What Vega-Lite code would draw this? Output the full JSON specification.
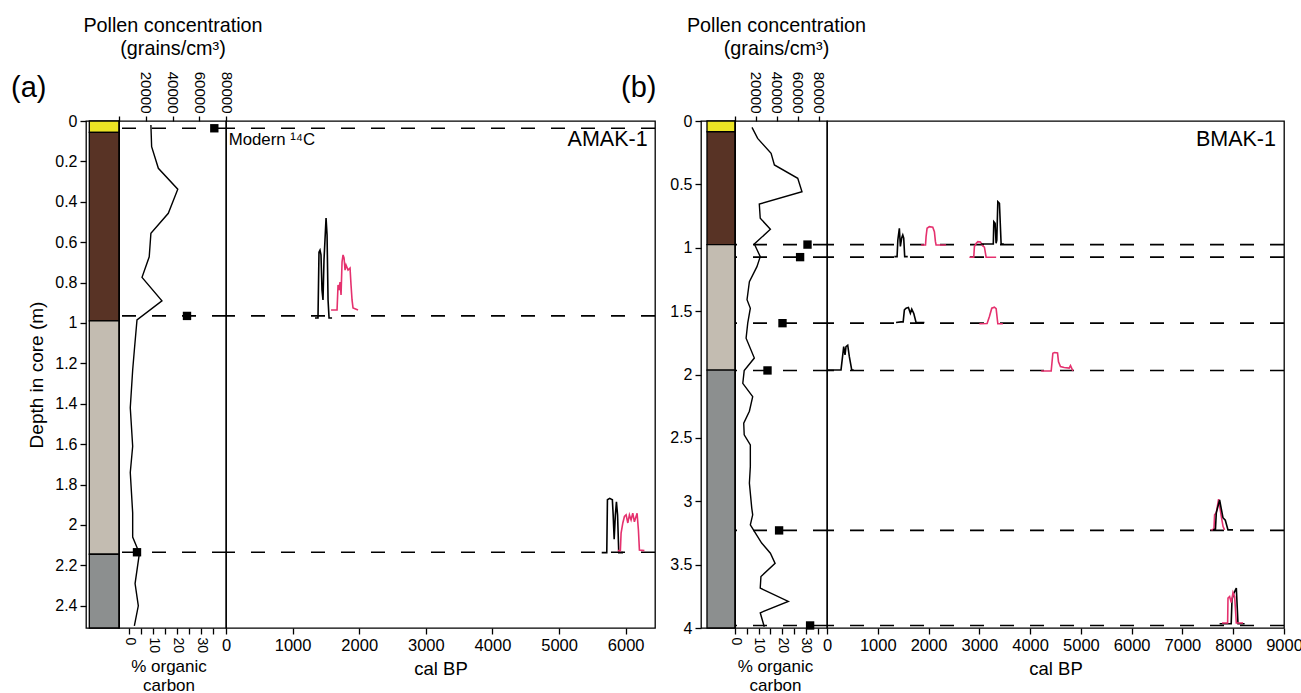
{
  "$schema": "https://vega.github.io/schema/vega-lite/v6.json",
  "background": "white",
  "padding": {"left": 10, "top": 14, "right": 0, "bottom": 0},
  "config": {
    "font": "Liberation Sans",
    "view": {"stroke": "black", "strokeWidth": 1.3},
    "axis": {"grid": false, "domain": false, "labelFlush": false, "labelOverlap": false, "labelColor": "black", "titleColor": "black", "tickColor": "black", "tickWidth": 1.3, "titleFontWeight": "normal", "labelFont": "Liberation Sans", "titleFont": "Liberation Sans"}
  },
  "datasets": {
    "lith": [
      {"core": "AMAK-1", "unit": "U1", "top": 0, "bottom": 0.056},
      {"core": "AMAK-1", "unit": "U2", "top": 0.056, "bottom": 0.99},
      {"core": "AMAK-1", "unit": "U3", "top": 0.99, "bottom": 2.145},
      {"core": "AMAK-1", "unit": "U4", "top": 2.145, "bottom": 2.51},
      {"core": "BMAK-1", "unit": "U1", "top": 0, "bottom": 0.085},
      {"core": "BMAK-1", "unit": "U2", "top": 0.085, "bottom": 0.975},
      {"core": "BMAK-1", "unit": "U3", "top": 0.975, "bottom": 1.965},
      {"core": "BMAK-1", "unit": "U4", "top": 1.965, "bottom": 4}
    ],
    "dates": [
      {"core": "AMAK-1", "depth": 0.036, "pollen": 71260},
      {"core": "AMAK-1", "depth": 0.965, "pollen": 50840},
      {"core": "AMAK-1", "depth": 2.135, "pollen": 13460},
      {"core": "BMAK-1", "depth": 0.975, "pollen": 69380},
      {"core": "BMAK-1", "depth": 1.074, "pollen": 62300},
      {"core": "BMAK-1", "depth": 1.595, "pollen": 45450},
      {"core": "BMAK-1", "depth": 1.968, "pollen": 31100},
      {"core": "BMAK-1", "depth": 3.23, "pollen": 42200},
      {"core": "BMAK-1", "depth": 3.98, "pollen": 71870}
    ],
    "oc": [
      {"core": "AMAK-1", "depth": 0.02, "oc": 9.0},
      {"core": "AMAK-1", "depth": 0.127, "oc": 9.3},
      {"core": "AMAK-1", "depth": 0.234, "oc": 12.1},
      {"core": "AMAK-1", "depth": 0.338, "oc": 20.2},
      {"core": "AMAK-1", "depth": 0.457, "oc": 16.25},
      {"core": "AMAK-1", "depth": 0.556, "oc": 9.0},
      {"core": "AMAK-1", "depth": 0.672, "oc": 8.3},
      {"core": "AMAK-1", "depth": 0.774, "oc": 5.3},
      {"core": "AMAK-1", "depth": 0.89, "oc": 13.6},
      {"core": "AMAK-1", "depth": 0.985, "oc": 3.2},
      {"core": "AMAK-1", "depth": 1.134, "oc": 2.1},
      {"core": "AMAK-1", "depth": 1.233, "oc": 1.4},
      {"core": "AMAK-1", "depth": 1.42, "oc": 0.4},
      {"core": "AMAK-1", "depth": 1.61, "oc": 1.4},
      {"core": "AMAK-1", "depth": 1.74, "oc": 0.4},
      {"core": "AMAK-1", "depth": 1.94, "oc": 1.4},
      {"core": "AMAK-1", "depth": 2.06, "oc": 1.4},
      {"core": "AMAK-1", "depth": 2.14, "oc": 4.2},
      {"core": "AMAK-1", "depth": 2.29, "oc": 2.4},
      {"core": "AMAK-1", "depth": 2.4, "oc": 3.75},
      {"core": "AMAK-1", "depth": 2.5, "oc": 2.1},
      {"core": "BMAK-1", "depth": 0.05, "oc": 7.2},
      {"core": "BMAK-1", "depth": 0.137, "oc": 9.6},
      {"core": "BMAK-1", "depth": 0.255, "oc": 15.3},
      {"core": "BMAK-1", "depth": 0.347, "oc": 16.7},
      {"core": "BMAK-1", "depth": 0.452, "oc": 26.6},
      {"core": "BMAK-1", "depth": 0.558, "oc": 28.4},
      {"core": "BMAK-1", "depth": 0.655, "oc": 10.3},
      {"core": "BMAK-1", "depth": 0.767, "oc": 10.7},
      {"core": "BMAK-1", "depth": 0.854, "oc": 15.0},
      {"core": "BMAK-1", "depth": 0.97, "oc": 8.2},
      {"core": "BMAK-1", "depth": 1.07, "oc": 10.7},
      {"core": "BMAK-1", "depth": 1.149, "oc": 9.3},
      {"core": "BMAK-1", "depth": 1.267, "oc": 6.1},
      {"core": "BMAK-1", "depth": 1.41, "oc": 5.1},
      {"core": "BMAK-1", "depth": 1.477, "oc": 6.5},
      {"core": "BMAK-1", "depth": 1.595, "oc": 5.4},
      {"core": "BMAK-1", "depth": 1.714, "oc": 4.7},
      {"core": "BMAK-1", "depth": 1.87, "oc": 8.2},
      {"core": "BMAK-1", "depth": 1.969, "oc": 3.9},
      {"core": "BMAK-1", "depth": 2.07, "oc": 3.3},
      {"core": "BMAK-1", "depth": 2.174, "oc": 7.5},
      {"core": "BMAK-1", "depth": 2.29, "oc": 6.1},
      {"core": "BMAK-1", "depth": 2.384, "oc": 3.7},
      {"core": "BMAK-1", "depth": 2.476, "oc": 3.9},
      {"core": "BMAK-1", "depth": 2.555, "oc": 6.5},
      {"core": "BMAK-1", "depth": 2.726, "oc": 6.5},
      {"core": "BMAK-1", "depth": 2.857, "oc": 6.1},
      {"core": "BMAK-1", "depth": 3.054, "oc": 7.1},
      {"core": "BMAK-1", "depth": 3.107, "oc": 7.5},
      {"core": "BMAK-1", "depth": 3.186, "oc": 6.5},
      {"core": "BMAK-1", "depth": 3.33, "oc": 11.3},
      {"core": "BMAK-1", "depth": 3.41, "oc": 15.0},
      {"core": "BMAK-1", "depth": 3.49, "oc": 17.0},
      {"core": "BMAK-1", "depth": 3.594, "oc": 11.0},
      {"core": "BMAK-1", "depth": 3.685, "oc": 10.7},
      {"core": "BMAK-1", "depth": 3.79, "oc": 22.6},
      {"core": "BMAK-1", "depth": 3.88, "oc": 10.7},
      {"core": "BMAK-1", "depth": 3.99, "oc": 12.4}
    ],
    "curves": [
      {"core": "AMAK-1", "curve": "a1", "set": "S1", "i": 1, "age": 1336, "depth": 0.975},
      {"core": "AMAK-1", "curve": "a1", "set": "S1", "i": 2, "age": 1381, "depth": 0.975},
      {"core": "AMAK-1", "curve": "a1", "set": "S1", "i": 3, "age": 1396, "depth": 0.649},
      {"core": "AMAK-1", "curve": "a1", "set": "S1", "i": 4, "age": 1411, "depth": 0.639},
      {"core": "AMAK-1", "curve": "a1", "set": "S1", "i": 5, "age": 1426, "depth": 0.663},
      {"core": "AMAK-1", "curve": "a1", "set": "S1", "i": 6, "age": 1441, "depth": 0.837},
      {"core": "AMAK-1", "curve": "a1", "set": "S1", "i": 7, "age": 1456, "depth": 0.886},
      {"core": "AMAK-1", "curve": "a1", "set": "S1", "i": 8, "age": 1471, "depth": 0.688},
      {"core": "AMAK-1", "curve": "a1", "set": "S1", "i": 9, "age": 1486, "depth": 0.589},
      {"core": "AMAK-1", "curve": "a1", "set": "S1", "i": 10, "age": 1502, "depth": 0.48},
      {"core": "AMAK-1", "curve": "a1", "set": "S1", "i": 11, "age": 1517, "depth": 0.564},
      {"core": "AMAK-1", "curve": "a1", "set": "S1", "i": 12, "age": 1532, "depth": 0.886},
      {"core": "AMAK-1", "curve": "a1", "set": "S1", "i": 13, "age": 1547, "depth": 0.975},
      {"core": "AMAK-1", "curve": "a1", "set": "S1", "i": 14, "age": 1592, "depth": 0.975},
      {"core": "AMAK-1", "curve": "a2", "set": "S2", "i": 1, "age": 1577, "depth": 0.936},
      {"core": "AMAK-1", "curve": "a2", "set": "S2", "i": 2, "age": 1667, "depth": 0.936},
      {"core": "AMAK-1", "curve": "a2", "set": "S2", "i": 3, "age": 1682, "depth": 0.812},
      {"core": "AMAK-1", "curve": "a2", "set": "S2", "i": 4, "age": 1697, "depth": 0.837},
      {"core": "AMAK-1", "curve": "a2", "set": "S2", "i": 5, "age": 1712, "depth": 0.797},
      {"core": "AMAK-1", "curve": "a2", "set": "S2", "i": 6, "age": 1727, "depth": 0.861},
      {"core": "AMAK-1", "curve": "a2", "set": "S2", "i": 7, "age": 1742, "depth": 0.698},
      {"core": "AMAK-1", "curve": "a2", "set": "S2", "i": 8, "age": 1757, "depth": 0.663},
      {"core": "AMAK-1", "curve": "a2", "set": "S2", "i": 9, "age": 1772, "depth": 0.678},
      {"core": "AMAK-1", "curve": "a2", "set": "S2", "i": 10, "age": 1787, "depth": 0.738},
      {"core": "AMAK-1", "curve": "a2", "set": "S2", "i": 11, "age": 1802, "depth": 0.713},
      {"core": "AMAK-1", "curve": "a2", "set": "S2", "i": 12, "age": 1832, "depth": 0.738},
      {"core": "AMAK-1", "curve": "a2", "set": "S2", "i": 13, "age": 1862, "depth": 0.728},
      {"core": "AMAK-1", "curve": "a2", "set": "S2", "i": 14, "age": 1877, "depth": 0.812},
      {"core": "AMAK-1", "curve": "a2", "set": "S2", "i": 15, "age": 1892, "depth": 0.886},
      {"core": "AMAK-1", "curve": "a2", "set": "S2", "i": 16, "age": 1907, "depth": 0.926},
      {"core": "AMAK-1", "curve": "a2", "set": "S2", "i": 17, "age": 1982, "depth": 0.936},
      {"core": "AMAK-1", "curve": "a3", "set": "S1", "i": 1, "age": 5640, "depth": 2.137},
      {"core": "AMAK-1", "curve": "a3", "set": "S1", "i": 2, "age": 5716, "depth": 2.137},
      {"core": "AMAK-1", "curve": "a3", "set": "S1", "i": 3, "age": 5726, "depth": 1.875},
      {"core": "AMAK-1", "curve": "a3", "set": "S1", "i": 4, "age": 5760, "depth": 1.868},
      {"core": "AMAK-1", "curve": "a3", "set": "S1", "i": 5, "age": 5800, "depth": 1.875},
      {"core": "AMAK-1", "curve": "a3", "set": "S1", "i": 6, "age": 5812, "depth": 1.95},
      {"core": "AMAK-1", "curve": "a3", "set": "S1", "i": 7, "age": 5827, "depth": 2.07},
      {"core": "AMAK-1", "curve": "a3", "set": "S1", "i": 8, "age": 5845, "depth": 1.95},
      {"core": "AMAK-1", "curve": "a3", "set": "S1", "i": 9, "age": 5861, "depth": 1.885},
      {"core": "AMAK-1", "curve": "a3", "set": "S1", "i": 10, "age": 5878, "depth": 1.95},
      {"core": "AMAK-1", "curve": "a3", "set": "S1", "i": 11, "age": 5896, "depth": 2.137},
      {"core": "AMAK-1", "curve": "a3", "set": "S1", "i": 12, "age": 5960, "depth": 2.137},
      {"core": "AMAK-1", "curve": "a4", "set": "S2", "i": 1, "age": 5882, "depth": 2.127},
      {"core": "AMAK-1", "curve": "a4", "set": "S2", "i": 2, "age": 5920, "depth": 2.127},
      {"core": "AMAK-1", "curve": "a4", "set": "S2", "i": 3, "age": 5931, "depth": 2.04},
      {"core": "AMAK-1", "curve": "a4", "set": "S2", "i": 4, "age": 5957, "depth": 1.99},
      {"core": "AMAK-1", "curve": "a4", "set": "S2", "i": 5, "age": 5981, "depth": 1.958},
      {"core": "AMAK-1", "curve": "a4", "set": "S2", "i": 6, "age": 6006, "depth": 1.95},
      {"core": "AMAK-1", "curve": "a4", "set": "S2", "i": 7, "age": 6032, "depth": 1.99},
      {"core": "AMAK-1", "curve": "a4", "set": "S2", "i": 8, "age": 6056, "depth": 1.95},
      {"core": "AMAK-1", "curve": "a4", "set": "S2", "i": 9, "age": 6081, "depth": 1.975},
      {"core": "AMAK-1", "curve": "a4", "set": "S2", "i": 10, "age": 6106, "depth": 1.942},
      {"core": "AMAK-1", "curve": "a4", "set": "S2", "i": 11, "age": 6131, "depth": 1.984},
      {"core": "AMAK-1", "curve": "a4", "set": "S2", "i": 12, "age": 6171, "depth": 1.942},
      {"core": "AMAK-1", "curve": "a4", "set": "S2", "i": 13, "age": 6191, "depth": 2.025},
      {"core": "AMAK-1", "curve": "a4", "set": "S2", "i": 14, "age": 6206, "depth": 2.124},
      {"core": "AMAK-1", "curve": "a4", "set": "S2", "i": 15, "age": 6281, "depth": 2.127},
      {"core": "BMAK-1", "curve": "b1", "set": "S1", "i": 1, "age": 1326, "depth": 1.07},
      {"core": "BMAK-1", "curve": "b1", "set": "S1", "i": 2, "age": 1380, "depth": 1.07},
      {"core": "BMAK-1", "curve": "b1", "set": "S1", "i": 3, "age": 1395, "depth": 0.94},
      {"core": "BMAK-1", "curve": "b1", "set": "S1", "i": 4, "age": 1425, "depth": 0.846},
      {"core": "BMAK-1", "curve": "b1", "set": "S1", "i": 5, "age": 1445, "depth": 0.99},
      {"core": "BMAK-1", "curve": "b1", "set": "S1", "i": 6, "age": 1472, "depth": 0.92},
      {"core": "BMAK-1", "curve": "b1", "set": "S1", "i": 7, "age": 1492, "depth": 0.899},
      {"core": "BMAK-1", "curve": "b1", "set": "S1", "i": 8, "age": 1511, "depth": 0.925},
      {"core": "BMAK-1", "curve": "b1", "set": "S1", "i": 9, "age": 1530, "depth": 1.07},
      {"core": "BMAK-1", "curve": "b1", "set": "S1", "i": 10, "age": 1590, "depth": 1.07},
      {"core": "BMAK-1", "curve": "b2", "set": "S2", "i": 1, "age": 1853, "depth": 0.978},
      {"core": "BMAK-1", "curve": "b2", "set": "S2", "i": 2, "age": 1940, "depth": 0.978},
      {"core": "BMAK-1", "curve": "b2", "set": "S2", "i": 3, "age": 1951, "depth": 0.912},
      {"core": "BMAK-1", "curve": "b2", "set": "S2", "i": 4, "age": 1971, "depth": 0.846},
      {"core": "BMAK-1", "curve": "b2", "set": "S2", "i": 5, "age": 2016, "depth": 0.834},
      {"core": "BMAK-1", "curve": "b2", "set": "S2", "i": 6, "age": 2083, "depth": 0.838},
      {"core": "BMAK-1", "curve": "b2", "set": "S2", "i": 7, "age": 2115, "depth": 0.873},
      {"core": "BMAK-1", "curve": "b2", "set": "S2", "i": 8, "age": 2135, "depth": 0.95},
      {"core": "BMAK-1", "curve": "b2", "set": "S2", "i": 9, "age": 2148, "depth": 0.978},
      {"core": "BMAK-1", "curve": "b2", "set": "S2", "i": 10, "age": 2345, "depth": 0.978},
      {"core": "BMAK-1", "curve": "b3", "set": "S2", "i": 1, "age": 2804, "depth": 1.075},
      {"core": "BMAK-1", "curve": "b3", "set": "S2", "i": 2, "age": 2890, "depth": 1.075},
      {"core": "BMAK-1", "curve": "b3", "set": "S2", "i": 3, "age": 2903, "depth": 0.991},
      {"core": "BMAK-1", "curve": "b3", "set": "S2", "i": 4, "age": 2940, "depth": 0.965},
      {"core": "BMAK-1", "curve": "b3", "set": "S2", "i": 5, "age": 2970, "depth": 0.952},
      {"core": "BMAK-1", "curve": "b3", "set": "S2", "i": 6, "age": 3021, "depth": 0.955},
      {"core": "BMAK-1", "curve": "b3", "set": "S2", "i": 7, "age": 3068, "depth": 0.986},
      {"core": "BMAK-1", "curve": "b3", "set": "S2", "i": 8, "age": 3100, "depth": 0.995},
      {"core": "BMAK-1", "curve": "b3", "set": "S2", "i": 9, "age": 3134, "depth": 1.075},
      {"core": "BMAK-1", "curve": "b3", "set": "S2", "i": 10, "age": 3331, "depth": 1.075},
      {"core": "BMAK-1", "curve": "b4", "set": "S1", "i": 1, "age": 3035, "depth": 0.97},
      {"core": "BMAK-1", "curve": "b4", "set": "S1", "i": 2, "age": 3275, "depth": 0.97},
      {"core": "BMAK-1", "curve": "b4", "set": "S1", "i": 3, "age": 3285, "depth": 0.794},
      {"core": "BMAK-1", "curve": "b4", "set": "S1", "i": 4, "age": 3311, "depth": 0.807},
      {"core": "BMAK-1", "curve": "b4", "set": "S1", "i": 5, "age": 3330, "depth": 0.965},
      {"core": "BMAK-1", "curve": "b4", "set": "S1", "i": 6, "age": 3344, "depth": 0.94},
      {"core": "BMAK-1", "curve": "b4", "set": "S1", "i": 7, "age": 3364, "depth": 0.636},
      {"core": "BMAK-1", "curve": "b4", "set": "S1", "i": 8, "age": 3396, "depth": 0.649},
      {"core": "BMAK-1", "curve": "b4", "set": "S1", "i": 9, "age": 3429, "depth": 0.97},
      {"core": "BMAK-1", "curve": "b4", "set": "S1", "i": 10, "age": 3482, "depth": 0.97},
      {"core": "BMAK-1", "curve": "b5", "set": "S1", "i": 1, "age": 1360, "depth": 1.59},
      {"core": "BMAK-1", "curve": "b5", "set": "S1", "i": 2, "age": 1458, "depth": 1.585},
      {"core": "BMAK-1", "curve": "b5", "set": "S1", "i": 3, "age": 1500, "depth": 1.585},
      {"core": "BMAK-1", "curve": "b5", "set": "S1", "i": 4, "age": 1524, "depth": 1.49},
      {"core": "BMAK-1", "curve": "b5", "set": "S1", "i": 5, "age": 1557, "depth": 1.477},
      {"core": "BMAK-1", "curve": "b5", "set": "S1", "i": 6, "age": 1603, "depth": 1.472},
      {"core": "BMAK-1", "curve": "b5", "set": "S1", "i": 7, "age": 1642, "depth": 1.517},
      {"core": "BMAK-1", "curve": "b5", "set": "S1", "i": 8, "age": 1669, "depth": 1.485},
      {"core": "BMAK-1", "curve": "b5", "set": "S1", "i": 9, "age": 1708, "depth": 1.517},
      {"core": "BMAK-1", "curve": "b5", "set": "S1", "i": 10, "age": 1754, "depth": 1.59},
      {"core": "BMAK-1", "curve": "b5", "set": "S1", "i": 11, "age": 1918, "depth": 1.59},
      {"core": "BMAK-1", "curve": "b6", "set": "S2", "i": 1, "age": 3001, "depth": 1.6},
      {"core": "BMAK-1", "curve": "b6", "set": "S2", "i": 2, "age": 3153, "depth": 1.598},
      {"core": "BMAK-1", "curve": "b6", "set": "S2", "i": 3, "age": 3199, "depth": 1.543},
      {"core": "BMAK-1", "curve": "b6", "set": "S2", "i": 4, "age": 3245, "depth": 1.477},
      {"core": "BMAK-1", "curve": "b6", "set": "S2", "i": 5, "age": 3297, "depth": 1.469},
      {"core": "BMAK-1", "curve": "b6", "set": "S2", "i": 6, "age": 3331, "depth": 1.48},
      {"core": "BMAK-1", "curve": "b6", "set": "S2", "i": 7, "age": 3364, "depth": 1.6},
      {"core": "BMAK-1", "curve": "b6", "set": "S2", "i": 8, "age": 3463, "depth": 1.6},
      {"core": "BMAK-1", "curve": "b7", "set": "S1", "i": 1, "age": 14, "depth": 1.964},
      {"core": "BMAK-1", "curve": "b7", "set": "S1", "i": 2, "age": 276, "depth": 1.964},
      {"core": "BMAK-1", "curve": "b7", "set": "S1", "i": 3, "age": 329, "depth": 1.78},
      {"core": "BMAK-1", "curve": "b7", "set": "S1", "i": 4, "age": 355, "depth": 1.845},
      {"core": "BMAK-1", "curve": "b7", "set": "S1", "i": 5, "age": 374, "depth": 1.78},
      {"core": "BMAK-1", "curve": "b7", "set": "S1", "i": 6, "age": 408, "depth": 1.769},
      {"core": "BMAK-1", "curve": "b7", "set": "S1", "i": 7, "age": 440, "depth": 1.859},
      {"core": "BMAK-1", "curve": "b7", "set": "S1", "i": 8, "age": 487, "depth": 1.964},
      {"core": "BMAK-1", "curve": "b7", "set": "S1", "i": 9, "age": 526, "depth": 1.964},
      {"core": "BMAK-1", "curve": "b8", "set": "S2", "i": 1, "age": 4218, "depth": 1.972},
      {"core": "BMAK-1", "curve": "b8", "set": "S2", "i": 2, "age": 4415, "depth": 1.972},
      {"core": "BMAK-1", "curve": "b8", "set": "S2", "i": 3, "age": 4448, "depth": 1.832},
      {"core": "BMAK-1", "curve": "b8", "set": "S2", "i": 4, "age": 4480, "depth": 1.827},
      {"core": "BMAK-1", "curve": "b8", "set": "S2", "i": 5, "age": 4540, "depth": 1.83},
      {"core": "BMAK-1", "curve": "b8", "set": "S2", "i": 6, "age": 4559, "depth": 1.9},
      {"core": "BMAK-1", "curve": "b8", "set": "S2", "i": 7, "age": 4598, "depth": 1.938},
      {"core": "BMAK-1", "curve": "b8", "set": "S2", "i": 8, "age": 4671, "depth": 1.945},
      {"core": "BMAK-1", "curve": "b8", "set": "S2", "i": 9, "age": 4769, "depth": 1.95},
      {"core": "BMAK-1", "curve": "b8", "set": "S2", "i": 10, "age": 4795, "depth": 1.93},
      {"core": "BMAK-1", "curve": "b8", "set": "S2", "i": 11, "age": 4842, "depth": 1.972},
      {"core": "BMAK-1", "curve": "b9", "set": "S2", "i": 1, "age": 7568, "depth": 3.226},
      {"core": "BMAK-1", "curve": "b9", "set": "S2", "i": 2, "age": 7620, "depth": 3.22},
      {"core": "BMAK-1", "curve": "b9", "set": "S2", "i": 3, "age": 7633, "depth": 3.107},
      {"core": "BMAK-1", "curve": "b9", "set": "S2", "i": 4, "age": 7667, "depth": 3.09},
      {"core": "BMAK-1", "curve": "b9", "set": "S2", "i": 5, "age": 7712, "depth": 2.983},
      {"core": "BMAK-1", "curve": "b9", "set": "S2", "i": 6, "age": 7765, "depth": 3.12},
      {"core": "BMAK-1", "curve": "b9", "set": "S2", "i": 7, "age": 7800, "depth": 3.2},
      {"core": "BMAK-1", "curve": "b9", "set": "S2", "i": 8, "age": 7830, "depth": 3.226},
      {"core": "BMAK-1", "curve": "b10", "set": "S1", "i": 1, "age": 7601, "depth": 3.226},
      {"core": "BMAK-1", "curve": "b10", "set": "S1", "i": 2, "age": 7650, "depth": 3.22},
      {"core": "BMAK-1", "curve": "b10", "set": "S1", "i": 3, "age": 7667, "depth": 3.09},
      {"core": "BMAK-1", "curve": "b10", "set": "S1", "i": 4, "age": 7732, "depth": 2.99},
      {"core": "BMAK-1", "curve": "b10", "set": "S1", "i": 5, "age": 7798, "depth": 3.13},
      {"core": "BMAK-1", "curve": "b10", "set": "S1", "i": 6, "age": 7844, "depth": 3.15},
      {"core": "BMAK-1", "curve": "b10", "set": "S1", "i": 7, "age": 7897, "depth": 3.226},
      {"core": "BMAK-1", "curve": "b10", "set": "S1", "i": 8, "age": 7996, "depth": 3.226},
      {"core": "BMAK-1", "curve": "b11", "set": "S1", "i": 1, "age": 7732, "depth": 3.967},
      {"core": "BMAK-1", "curve": "b11", "set": "S1", "i": 2, "age": 7960, "depth": 3.967},
      {"core": "BMAK-1", "curve": "b11", "set": "S1", "i": 3, "age": 7976, "depth": 3.776},
      {"core": "BMAK-1", "curve": "b11", "set": "S1", "i": 4, "age": 8008, "depth": 3.73},
      {"core": "BMAK-1", "curve": "b11", "set": "S1", "i": 5, "age": 8061, "depth": 3.685},
      {"core": "BMAK-1", "curve": "b11", "set": "S1", "i": 6, "age": 8094, "depth": 3.967},
      {"core": "BMAK-1", "curve": "b11", "set": "S1", "i": 7, "age": 8224, "depth": 3.967},
      {"core": "BMAK-1", "curve": "b12", "set": "S2", "i": 1, "age": 7780, "depth": 3.961},
      {"core": "BMAK-1", "curve": "b12", "set": "S2", "i": 2, "age": 7890, "depth": 3.961},
      {"core": "BMAK-1", "curve": "b12", "set": "S2", "i": 3, "age": 7897, "depth": 3.764},
      {"core": "BMAK-1", "curve": "b12", "set": "S2", "i": 4, "age": 7929, "depth": 3.752},
      {"core": "BMAK-1", "curve": "b12", "set": "S2", "i": 5, "age": 7962, "depth": 3.8},
      {"core": "BMAK-1", "curve": "b12", "set": "S2", "i": 6, "age": 7996, "depth": 3.72},
      {"core": "BMAK-1", "curve": "b12", "set": "S2", "i": 7, "age": 8028, "depth": 3.752},
      {"core": "BMAK-1", "curve": "b12", "set": "S2", "i": 8, "age": 8061, "depth": 3.961},
      {"core": "BMAK-1", "curve": "b12", "set": "S2", "i": 9, "age": 8193, "depth": 3.961}
    ],
    "labels": [
      {"key": "pa", "label": "(a)"},
      {"key": "pb", "label": "(b)"},
      {"key": "ca", "label": "AMAK-1"},
      {"key": "cb", "label": "BMAK-1"},
      {"key": "mod", "label": "Modern ¹⁴C"}
    ]
  },
  "bounds": "flush",
  "spacing": 0,
  "hconcat": [
    {
      "width": 33, "height": 507,
      "layer": [
        {
          "data": {"name": "lith"},
          "transform": [{"filter": "datum.core == 'AMAK-1'"}],
          "mark": {"type": "rect", "stroke": "black", "strokeWidth": 1.3},
          "encoding": {
            "y": {"field": "top", "type": "quantitative", "scale": {"domain": [0, 2.51], "reverse": true, "nice": false, "zero": false},
                  "axis": {"values": [0, 0.2, 0.4, 0.6, 0.8, 1, 1.2, 1.4, 1.6, 1.8, 2, 2.2, 2.4], "format": "~g", "labelFontSize": 16, "tickSize": 6, "labelPadding": 3, "title": "Depth in core (m)", "titleFontSize": 19, "titlePadding": 8}},
            "y2": {"field": "bottom"},
            "x": {"datum": 0.1, "type": "quantitative", "scale": {"domain": [0, 1], "nice": false, "zero": false}, "axis": null},
            "x2": {"datum": 1},
            "fill": {"field": "unit", "type": "nominal", "scale": {"domain": ["U1", "U2", "U3", "U4"], "range": ["#ebe424", "#583325", "#c3bcb1", "#8c8f8f"]}, "legend": null}
          }
        },
        {
          "data": {"name": "labels"},
          "transform": [{"filter": "datum.key == 'pa'"}],
          "mark": {"type": "text", "fontSize": 29, "align": "left", "baseline": "middle", "color": "black"},
          "encoding": {"text": {"field": "label"}, "x": {"datum": -2.273, "type": "quantitative"}, "y": {"datum": -0.163, "type": "quantitative"}}
        }
      ]
    },
    {
      "width": 107, "height": 507,
      "layer": [
        {
          "data": {"name": "dates"},
          "transform": [{"filter": "datum.core == 'AMAK-1'"}],
          "mark": {"type": "rule", "strokeDash": [14, 16], "strokeWidth": 1.6, "color": "black"},
          "encoding": {"y": {"field": "depth", "type": "quantitative", "scale": {"domain": [0, 2.51], "reverse": true, "nice": false, "zero": false}, "axis": null}}
        },
        {
          "data": {"name": "oc"},
          "transform": [{"filter": "datum.core == 'AMAK-1'"}],
          "mark": {"type": "line", "color": "black", "strokeWidth": 1.4},
          "encoding": {
            "x": {"field": "oc", "type": "quantitative", "scale": {"domain": [-4.3, 40.3], "nice": false, "zero": false},
                  "axis": {"orient": "bottom", "values": [0, 5, 10, 15, 20, 25, 30, 35], "labelExpr": "datum.value % 10 == 0 ? datum.label : ''", "labelAngle": 90, "labelFontSize": 14, "tickSize": 6, "labelPadding": 3, "title": ["% organic", "carbon"], "titleFontSize": 17, "titleLineHeight": 19, "titlePadding": 6, "titleX": 49.5}},
            "y": {"field": "depth", "type": "quantitative", "scale": {"domain": [0, 2.51], "reverse": true, "nice": false, "zero": false}, "axis": null},
            "order": {"field": "depth"}
          }
        },
        {
          "data": {"name": "dates"},
          "transform": [{"filter": "datum.core == 'AMAK-1'"}],
          "mark": {"type": "point", "shape": "square", "filled": true, "size": 70, "color": "black", "opacity": 1},
          "encoding": {
            "x": {"field": "pollen", "type": "quantitative", "scale": {"domain": [0, 80000], "nice": false, "zero": false},
                  "axis": {"orient": "top", "values": [0, 20000, 40000, 60000, 80000], "format": "d", "labelExpr": "datum.value == 0 ? '' : datum.label", "labelAngle": 90, "labelFontSize": 15, "tickSize": 5, "labelPadding": 3, "title": ["Pollen concentration", "(grains/cm³)"], "titleFontSize": 19.8, "titleLineHeight": 23, "titlePadding": 13}},
            "y": {"field": "depth", "type": "quantitative", "scale": {"domain": [0, 2.51], "reverse": true, "nice": false, "zero": false}, "axis": null}
          }
        }
      ],
      "resolve": {"scale": {"x": "independent"}, "axis": {"x": "independent"}}
    },
    {
      "width": 429, "height": 507,
      "layer": [
        {
          "data": {"name": "dates"},
          "transform": [{"filter": "datum.core == 'AMAK-1'"}],
          "mark": {"type": "rule", "strokeDash": [14, 16], "strokeWidth": 1.6, "color": "black"},
          "encoding": {"y": {"field": "depth", "type": "quantitative", "scale": {"domain": [0, 2.51], "reverse": true, "nice": false, "zero": false}, "axis": null}}
        },
        {
          "data": {"name": "curves"},
          "transform": [{"filter": "datum.core == 'AMAK-1'"}],
          "mark": {"type": "line", "strokeWidth": 1.6},
          "encoding": {
            "x": {"field": "age", "type": "quantitative", "scale": {"domain": [0, 6440], "nice": false, "zero": false},
                  "axis": {"values": [0, 1000, 2000, 3000, 4000, 5000, 6000], "format": "d", "labelFontSize": 16.5, "tickSize": 6, "labelPadding": 3, "title": "cal BP", "titleFontSize": 18.5, "titlePadding": 6}},
            "y": {"field": "depth", "type": "quantitative", "scale": {"domain": [0, 2.51], "reverse": true, "nice": false, "zero": false}, "axis": null},
            "color": {"field": "set", "type": "nominal", "scale": {"domain": ["S1", "S2"], "range": ["#000000", "#e5316e"]}, "legend": null},
            "detail": {"field": "curve"},
            "order": {"field": "i"}
          }
        },
        {
          "data": {"name": "labels"},
          "transform": [{"filter": "datum.key == 'mod'"}],
          "mark": {"type": "text", "fontSize": 16.8, "align": "left", "baseline": "middle", "color": "black"},
          "encoding": {"text": {"field": "label"}, "x": {"datum": 40, "type": "quantitative"}, "y": {"datum": 0.094, "type": "quantitative"}}
        },
        {
          "data": {"name": "labels"},
          "transform": [{"filter": "datum.key == 'ca'"}],
          "mark": {"type": "text", "fontSize": 21.5, "align": "right", "baseline": "middle", "color": "black"},
          "encoding": {"text": {"field": "label"}, "x": {"datum": 6330, "type": "quantitative"}, "y": {"datum": 0.094, "type": "quantitative"}}
        }
      ]
    },
    {
      "width": 46, "height": 507,
      "view": {"stroke": null},
      "data": {"name": "labels"},
      "transform": [{"filter": "datum.key == 'pb'"}],
      "mark": {"type": "text", "fontSize": 29, "align": "left", "baseline": "middle", "color": "black"},
      "encoding": {
        "text": {"field": "label"},
        "x": {"datum": -0.739, "type": "quantitative", "scale": {"domain": [0, 1], "nice": false, "zero": false}, "axis": null},
        "y": {"datum": -0.26, "type": "quantitative", "scale": {"domain": [0, 4], "reverse": true, "nice": false, "zero": false}, "axis": null}
      }
    },
    {
      "width": 34, "height": 507,
      "data": {"name": "lith"},
      "transform": [{"filter": "datum.core == 'BMAK-1'"}],
      "mark": {"type": "rect", "stroke": "black", "strokeWidth": 1.3},
      "encoding": {
        "y": {"field": "top", "type": "quantitative", "scale": {"domain": [0, 4], "reverse": true, "nice": false, "zero": false},
              "axis": {"values": [0, 0.5, 1, 1.5, 2, 2.5, 3, 3.5, 4], "format": "~g", "labelFontSize": 16, "tickSize": 6, "labelPadding": 3, "title": null}},
        "y2": {"field": "bottom"},
        "x": {"datum": 0.176, "type": "quantitative", "scale": {"domain": [0, 1], "nice": false, "zero": false}, "axis": null},
        "x2": {"datum": 1},
        "fill": {"field": "unit", "type": "nominal", "scale": {"domain": ["U1", "U2", "U3", "U4"], "range": ["#ebe424", "#583325", "#c3bcb1", "#8c8f8f"]}, "legend": null}
      }
    },
    {
      "width": 92, "height": 507,
      "layer": [
        {
          "data": {"name": "dates"},
          "transform": [{"filter": "datum.core == 'BMAK-1'"}],
          "mark": {"type": "rule", "strokeDash": [14, 16], "strokeWidth": 1.6, "color": "black"},
          "encoding": {"y": {"field": "depth", "type": "quantitative", "scale": {"domain": [0, 4], "reverse": true, "nice": false, "zero": false}, "axis": null}}
        },
        {
          "data": {"name": "oc"},
          "transform": [{"filter": "datum.core == 'BMAK-1'"}],
          "mark": {"type": "line", "color": "black", "strokeWidth": 1.4},
          "encoding": {
            "x": {"field": "oc", "type": "quantitative", "scale": {"domain": [0, 39], "nice": false, "zero": false},
                  "axis": {"orient": "bottom", "values": [0, 5, 10, 15, 20, 25, 30, 35], "labelExpr": "datum.value % 10 == 0 ? datum.label : ''", "labelAngle": 90, "labelFontSize": 14, "tickSize": 6, "labelPadding": 3, "title": ["% organic", "carbon"], "titleFontSize": 17, "titleLineHeight": 19, "titlePadding": 6, "titleX": 40}},
            "y": {"field": "depth", "type": "quantitative", "scale": {"domain": [0, 4], "reverse": true, "nice": false, "zero": false}, "axis": null},
            "order": {"field": "depth"}
          }
        },
        {
          "data": {"name": "dates"},
          "transform": [{"filter": "datum.core == 'BMAK-1'"}],
          "mark": {"type": "point", "shape": "square", "filled": true, "size": 70, "color": "black", "opacity": 1},
          "encoding": {
            "x": {"field": "pollen", "type": "quantitative", "scale": {"domain": [0, 88040], "nice": false, "zero": false},
                  "axis": {"orient": "top", "values": [0, 20000, 40000, 60000, 80000], "format": "d", "labelExpr": "datum.value == 0 ? '' : datum.label", "labelAngle": 90, "labelFontSize": 15, "tickSize": 5, "labelPadding": 3, "title": ["Pollen concentration", "(grains/cm³)"], "titleFontSize": 19.8, "titleLineHeight": 23, "titlePadding": 13, "titleX": 41}},
            "y": {"field": "depth", "type": "quantitative", "scale": {"domain": [0, 4], "reverse": true, "nice": false, "zero": false}, "axis": null}
          }
        }
      ],
      "resolve": {"scale": {"x": "independent"}, "axis": {"x": "independent"}}
    },
    {
      "width": 457, "height": 507,
      "layer": [
        {
          "data": {"name": "dates"},
          "transform": [{"filter": "datum.core == 'BMAK-1'"}],
          "mark": {"type": "rule", "strokeDash": [14, 16], "strokeWidth": 1.6, "color": "black"},
          "encoding": {"y": {"field": "depth", "type": "quantitative", "scale": {"domain": [0, 4], "reverse": true, "nice": false, "zero": false}, "axis": null}}
        },
        {
          "data": {"name": "curves"},
          "transform": [{"filter": "datum.core == 'BMAK-1'"}],
          "mark": {"type": "line", "strokeWidth": 1.6},
          "encoding": {
            "x": {"field": "age", "type": "quantitative", "scale": {"domain": [0, 9000], "nice": false, "zero": false},
                  "axis": {"values": [0, 1000, 2000, 3000, 4000, 5000, 6000, 7000, 8000, 9000], "format": "d", "labelFontSize": 16.5, "tickSize": 6, "labelPadding": 3, "title": "cal BP", "titleFontSize": 18.5, "titlePadding": 6}},
            "y": {"field": "depth", "type": "quantitative", "scale": {"domain": [0, 4], "reverse": true, "nice": false, "zero": false}, "axis": null},
            "color": {"field": "set", "type": "nominal", "scale": {"domain": ["S1", "S2"], "range": ["#000000", "#e5316e"]}, "legend": null},
            "detail": {"field": "curve"},
            "order": {"field": "i"}
          }
        },
        {
          "data": {"name": "labels"},
          "transform": [{"filter": "datum.key == 'cb'"}],
          "mark": {"type": "text", "fontSize": 21.5, "align": "right", "baseline": "middle", "color": "black"},
          "encoding": {"text": {"field": "label"}, "x": {"datum": 8842, "type": "quantitative"}, "y": {"datum": 0.15, "type": "quantitative"}}
        }
      ]
    }
  ]
}
